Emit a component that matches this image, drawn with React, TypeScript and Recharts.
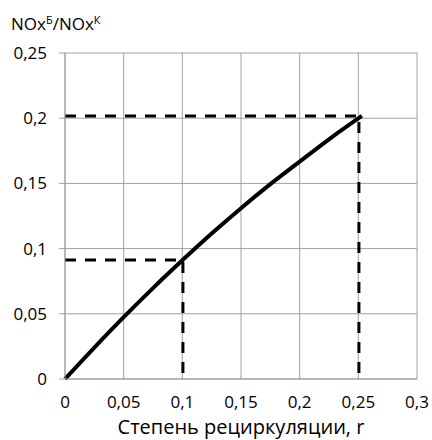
import { CartesianGrid, Line, LineChart, XAxis, YAxis } from "recharts";

// кривая отношения NOx
const curveR = [0, 0.025, 0.05, 0.075, 0.1, 0.125, 0.15, 0.175, 0.2, 0.225, 0.253];
const curveRatio = [0, 0.0241, 0.0474, 0.0697, 0.091, 0.1115, 0.131, 0.1494, 0.1667, 0.1838, 0.2017];

// пунктирные выноски
const guideLowR = [0, 0.1005, 0.1005];
const guideLowRatio = [0.0913, 0.0913, 0];
const guideHighR = [0, 0.2505, 0.2505];
const guideHighRatio = [0.2017, 0.2017, 0];

const xTicks = [0, 0.05, 0.1, 0.15, 0.2, 0.25, 0.3];
const yTicks = [0, 0.05, 0.1, 0.15, 0.2, 0.25];

const xTitle = "Степень рециркуляции, r";

const zip = (xs: number[], ys: number[]) => xs.map((r, i) => ({ r, v: ys[i] }));

const curve = zip(curveR, curveRatio);
const guideLow = zip(guideLowR, guideLowRatio);
const guideHigh = zip(guideHighR, guideHighRatio);

const fmt = (v: number) => String(v).replace(".", ",");
const FONT = "'Open Sans', sans-serif";
const GRID = "#a0a0a0";

function YTitle() {
  return (
    <text x={11} y={30} fontSize={17} fill="#000" fontFamily={FONT}>
      NOx
      <tspan fontSize={11} dy={-6}>Б</tspan>
      <tspan dy={6}>/NOx</tspan>
      <tspan fontSize={11} dy={-6}>К</tspan>
    </text>
  );
}

export default function App() {
  return (
    <div style={{ position: "absolute", left: 0, top: 0 }}>
      <LineChart
        width={432}
        height={440}
        margin={{ top: 53, right: 15, left: 0, bottom: 0 }}
        style={{ fontFamily: FONT }}
      >
        <CartesianGrid stroke={GRID} strokeWidth={1} />
        <XAxis
          type="number"
          dataKey="r"
          domain={[0, 0.3]}
          ticks={xTicks}
          tickFormatter={fmt}
          tick={{ fontSize: 17, fill: "#000" }}
          tickLine={false}
          tickSize={6}
          tickMargin={11}
          height={61}
          stroke={GRID}
          label={{ value: xTitle, position: "insideBottom", offset: 6, fontSize: 20, fill: "#000" }}
        />
        <YAxis
          type="number"
          domain={[0, 0.25]}
          ticks={yTicks}
          tickFormatter={fmt}
          tick={{ fontSize: 17, fill: "#000" }}
          tickSize={6}
          tickMargin={12}
          width={65}
          stroke={GRID}
          label={{ content: () => <YTitle /> }}
        />
        <Line
          data={guideLow}
          dataKey="v"
          stroke="#000"
          strokeWidth={3}
          strokeDasharray="11 9"
          dot={false}
          isAnimationActive={false}
        />
        <Line
          data={guideHigh}
          dataKey="v"
          stroke="#000"
          strokeWidth={3}
          strokeDasharray="11 9"
          dot={false}
          isAnimationActive={false}
        />
        <Line
          data={curve}
          dataKey="v"
          type="monotone"
          stroke="#000"
          strokeWidth={4}
          dot={false}
          isAnimationActive={false}
        />
      </LineChart>
    </div>
  );
}
